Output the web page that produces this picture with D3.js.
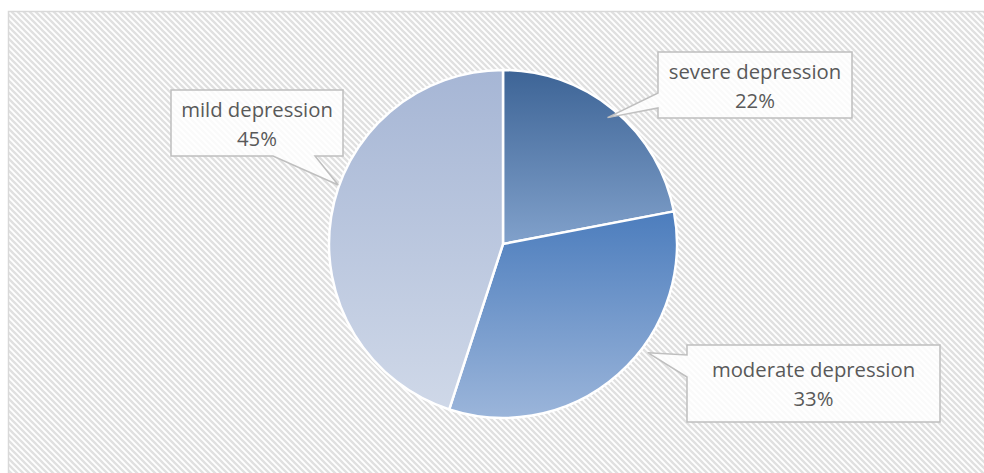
<!DOCTYPE html>
<html>
<head>
<meta charset="utf-8">
<script src="https://cdn.jsdelivr.net/npm/d3@7/dist/d3.min.js"></script>
<style>
  body { margin: 0; background: #ffffff; }
  svg { display: block; }
</style>
</head>
<body>
<svg id="chart" width="984" height="473"></svg>
<script>
// Data
const categories = ["severe depression", "moderate depression", "mild depression"];
const shares = [22, 33, 45];
const percentLabels = ["22%", "33%", "45%"];

// Per-slice vertical gradient stops (top -> bottom)
const gradTop = ["#3d6496", "#4c7dbd", "#a6b6d5"];
const gradBottom = ["#81a1cb", "#9bb5da", "#cfd8e8"];

const svg = d3.select("#chart");
const W = 984, H = 473;
const cx = 503, cy = 244, R = 174;

const defs = svg.append("defs");

// Diagonal hatch used for the chart area background
const hatch = defs.append("pattern")
  .attr("id", "hatch")
  .attr("patternUnits", "userSpaceOnUse")
  .attr("width", 6).attr("height", 6);
hatch.append("rect").attr("width", 6).attr("height", 6).attr("fill", "#ffffff");
hatch.append("path")
  .attr("d", "M-1,-1 L7,7 M-4,2 L4,10 M2,-4 L10,4")
  .attr("stroke", "#e0e0e0").attr("stroke-width", 2.3);

categories.forEach((c, i) => {
  const g = defs.append("linearGradient")
    .attr("id", "grad" + i)
    .attr("x1", 0).attr("y1", 0).attr("x2", 0).attr("y2", 1);
  g.append("stop").attr("offset", "0%").attr("stop-color", gradTop[i]);
  g.append("stop").attr("offset", "100%").attr("stop-color", gradBottom[i]);
});

// Chart area
svg.append("rect")
  .attr("x", 8.5).attr("y", 11.5)
  .attr("width", W + 20).attr("height", H + 20)
  .attr("fill", "url(#hatch)")
  .attr("stroke", "#d9d9d9").attr("stroke-width", 1.5);

// Pie
const pie = d3.pie().sort(null).value(d => d);
const arcs = pie(shares);
const arc = d3.arc().innerRadius(0).outerRadius(R);

const plot = svg.append("g").attr("transform", `translate(${cx},${cy})`);
plot.selectAll("path.slice")
  .data(arcs)
  .join("path")
  .attr("class", "slice")
  .attr("d", arc)
  .attr("fill", (d, i) => `url(#grad${i})`)
  .attr("stroke", "#ffffff")
  .attr("stroke-width", 2.5)
  .attr("stroke-linejoin", "round");

// Callout label layout
const callouts = [
  { box: { x: 658, y: 52, w: 194, h: 66 }, side: "left", a1: 93, a2: 108, tipAngle: null, tipR: 164 },
  { box: { x: 687, y: 345, w: 253, h: 77 }, side: "left", a1: 355, a2: 377, tipAngle: 126.9, tipR: 181 },
  { box: { x: 171, y: 90, w: 172, h: 66 }, side: "bottom", a1: 273, a2: 315, tipAngle: 289.7, tipR: 175 }
];

function tipPoint(d, c) {
  const ang = c.tipAngle == null ? (d.startAngle + d.endAngle) / 2 : c.tipAngle * Math.PI / 180;
  return [cx + c.tipR * Math.sin(ang), cy - c.tipR * Math.cos(ang)];
}

function calloutPath(c, tip) {
  const { x, y, w, h } = c.box;
  const p = d3.path();
  p.moveTo(x, y);
  p.lineTo(x + w, y);
  p.lineTo(x + w, y + h);
  if (c.side === "bottom") {
    p.lineTo(c.a2, y + h);
    p.lineTo(tip[0], tip[1]);
    p.lineTo(c.a1, y + h);
    p.lineTo(x, y + h);
    p.closePath();
  } else {
    p.lineTo(x, y + h);
    p.lineTo(x, c.a2);
    p.lineTo(tip[0], tip[1]);
    p.lineTo(x, c.a1);
    p.closePath();
  }
  return p.toString();
}

const labels = svg.append("g");
arcs.forEach((d, i) => {
  const c = callouts[i];
  const tip = tipPoint(d, c);
  const g = labels.append("g");
  g.append("path")
    .attr("d", calloutPath(c, tip))
    .attr("fill", "rgba(255,255,255,0.82)")
    .attr("stroke", "#bfbfbf")
    .attr("stroke-width", 1.5)
    .attr("stroke-linejoin", "miter");
  const mx = c.box.x + c.box.w / 2;
  const my = c.box.y + c.box.h / 2;
  const t = g.append("text")
    .attr("text-anchor", "middle")
    .attr("font-family", "'Open Sans', sans-serif")
    .attr("font-size", 20.3)
    .attr("fill", "#595959");
  t.append("tspan").attr("x", mx).attr("y", my - 6.5).text(categories[i]);
  t.append("tspan").attr("x", mx).attr("y", my + 22.5).text(percentLabels[i]);
});
</script>
</body>
</html>
